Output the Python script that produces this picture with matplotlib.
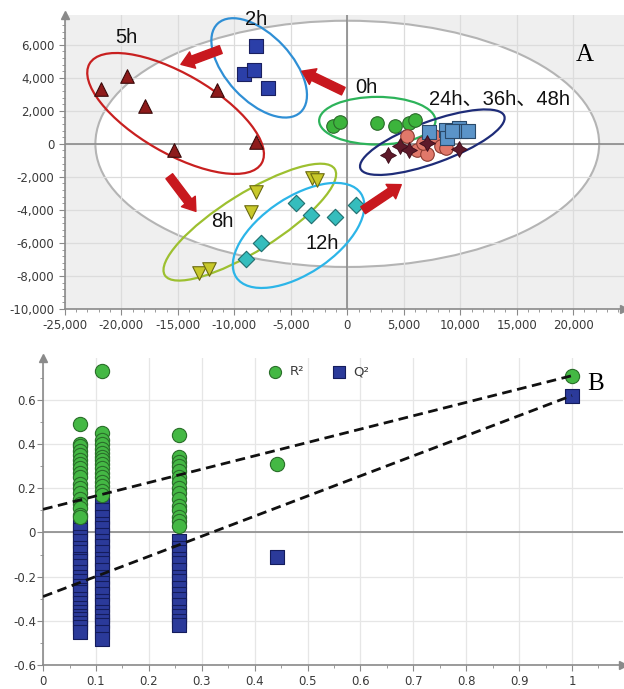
import matplotlib
matplotlib.use('Agg')
import matplotlib.pyplot as plt
from matplotlib.patches import Ellipse
from matplotlib.transforms import Affine2D
from matplotlib.ticker import FuncFormatter, AutoMinorLocator, MultipleLocator

# ── PCA scores (t1, t2) per sampling time ────────────────────────────────────
H5_X = [-21800, -19500, -17900, -15300, -11500, -8100]
H5_Y = [3350, 4100, 2300, -350, 3250, 100]
H2_X = [-8050, -9150, -8300, -7050]
H2_Y = [5900, 4200, 4500, 3400]
H0_X = [-1250, -650, 2650, 4250, 5500, 6000]
H0_Y = [1100, 1350, 1250, 1100, 1250, 1450]
H8_X = [-8100, -8550, -13100, -12250, -3100, -2700]
H8_Y = [-2900, -4100, -7800, -7600, -2050, -2200]
H12_X = [-9000, -7600, -4500, -3200, -1100, 800]
H12_Y = [-7000, -6000, -3600, -4300, -4400, -3700]
H24_X = [5300, 6200, 7100, 7700, 8300, 8750, 6700]
H24_Y = [450, -350, -600, 450, -150, -250, 50]
H36_X = [3600, 4700, 5500, 7100, 9850]
H36_Y = [-700, -150, -350, 50, -300]
H48_X = [7250, 8750, 8850, 9900, 10050, 10700, 9300]
H48_Y = [700, 850, 350, 950, 750, 750, 800]

# ── permutation test (200 permutations, shown compressed) ───────────────────
PERM_X = [0.070, 0.111, 0.257, 0.443]
R2_PERM = [
    [0.49, 0.40, 0.39, 0.37, 0.35, 0.33, 0.31, 0.29, 0.27, 0.25, 0.22,
     0.20, 0.18, 0.15, 0.13, 0.11, 0.08, 0.07],
    [0.73, 0.45, 0.42, 0.40, 0.38, 0.36, 0.34, 0.33, 0.31, 0.29, 0.27,
     0.25, 0.23, 0.21, 0.19, 0.17],
    [0.44, 0.34, 0.32, 0.30, 0.28, 0.25, 0.23, 0.20, 0.18, 0.15, 0.12,
     0.10, 0.07, 0.05, 0.03],
    [0.31],
]
Q2_PERM = [
    [0.03, 0.01, -0.02, -0.04, -0.07, -0.09, -0.12, -0.13, -0.15, -0.18,
     -0.20, -0.22, -0.24, -0.26, -0.27, -0.30, -0.32, -0.34, -0.36, -0.38,
     -0.39, -0.41, -0.43, -0.45],
    [0.13, 0.10, 0.07, 0.04, 0.02, -0.01, -0.04, -0.06, -0.09, -0.12,
     -0.14, -0.17, -0.20, -0.23, -0.25, -0.28, -0.31, -0.33, -0.36, -0.38,
     -0.40, -0.42, -0.45, -0.48],
    [-0.04, -0.07, -0.09, -0.12, -0.14, -0.17, -0.20, -0.22, -0.25, -0.28,
     -0.30, -0.33, -0.36, -0.38, -0.40, -0.42],
    [-0.11],
]
MODEL_X = 1.0
R2_MODEL = 0.71
Q2_MODEL = 0.62
R2_INTERCEPT = 0.105
Q2_INTERCEPT = -0.29

# ── colours ──────────────────────────────────────────────────────────────────
AXIS_C = '#8a8a8a'
TEXT_C = '#3a3a3a'
GRID_C = '#dcdcdc'
ARROW_C = '#c8181e'
LABEL_FONT = ['Liberation Sans', 'Noto Sans CJK SC']

fig = plt.figure(figsize=(6.24, 6.89), dpi=100)
ax = fig.add_axes([0.104, 0.5515, 0.896, 0.4267])
bx = fig.add_axes([0.069, 0.0348, 0.929, 0.4456])


def style_axes(a, bg):
    a.set_facecolor(bg)
    for s in ('top', 'right'):
        a.spines[s].set_visible(False)
    for s in ('left', 'bottom'):
        a.spines[s].set_color(AXIS_C)
        a.spines[s].set_linewidth(1.2)
    # arrow heads on the axis ends
    a.plot(0, 1, '^', transform=a.transAxes, clip_on=False,
           color=AXIS_C, ms=6, zorder=6)
    a.plot(1, 0, '>', transform=a.transAxes, clip_on=False,
           color=AXIS_C, ms=6, zorder=6)
    a.tick_params(which='both', colors=AXIS_C, labelcolor=TEXT_C,
                  labelsize=8.5, direction='out')
    a.tick_params(which='major', length=4)
    a.tick_params(which='minor', length=2.5)
    a.grid(True, which='major', color=GRID_C, lw=0.9)
    a.set_axisbelow(True)


# ──────────────────────────────────────────────────────────────────────────────
# A: scores plot
# ──────────────────────────────────────────────────────────────────────────────
style_axes(ax, '#efefef')
ax.set_xlim(-25000, 24500)
ax.set_ylim(-10000, 7800)
ax.xaxis.set_major_locator(MultipleLocator(5000))
ax.yaxis.set_major_locator(MultipleLocator(2000))
ax.xaxis.set_minor_locator(AutoMinorLocator(5))
ax.yaxis.set_minor_locator(AutoMinorLocator(5))
ax.set_xticks(range(-25000, 20001, 5000))
fmt = FuncFormatter(lambda v, p: f'{int(v):,}')
ax.xaxis.set_major_formatter(fmt)
ax.yaxis.set_major_formatter(fmt)
ax.axhline(0, color=AXIS_C, lw=1.2, zorder=0.6)
ax.axvline(0, color=AXIS_C, lw=1.2, zorder=0.6)


def _ratio(a):
    """y-data units per x-data unit of equal on-screen length."""
    bb = a.get_position()
    fw, fh = fig.get_size_inches()
    x0, x1 = a.get_xlim()
    y0, y1 = a.get_ylim()
    return (bb.width * fw / (x1 - x0)) / (bb.height * fh / (y1 - y0))


def group_ellipse(a, cx, cy, semi_a, semi_b, angle, color, fill='none',
                  lw=1.6, z=3):
    # semi-axes in x-data units, angle measured on screen
    r = _ratio(a)
    tr = Affine2D().scale(1, r) + a.transData
    e = Ellipse((cx, cy / r), 2 * semi_a, 2 * semi_b, angle=angle,
                transform=tr, facecolor=fill, edgecolor=color, lw=lw,
                zorder=z)
    a.add_patch(e)


# Hotelling T2 (95%) region
group_ellipse(ax, 0, 0, 22300, 10900, 0, '#b4b4b4', fill='white', lw=1.5,
              z=0.3)
group_ellipse(ax, -15200, 1840, 8800, 3520, -30, '#c82020')
group_ellipse(ax, -7800, 4600, 5370, 2900, -47, '#2f8fd5')
group_ellipse(ax, -8630, -4740, 8870, 2550, 32, '#9dc030')
group_ellipse(ax, -4310, -5545, 6650, 3370, 34, '#2cb5e8')
group_ellipse(ax, 2660, 1400, 5150, 2110, 0, '#2db35a')
group_ellipse(ax, 7530, 100, 6780, 1850, 20, '#1e2c78')

mk = dict(s=95, linewidths=0.8, zorder=4)
ax.scatter(H5_X, H5_Y, marker='^', c='#8e1b1b', edgecolors='#3a0a0a', **mk)
ax.scatter(H2_X, H2_Y, marker='s', c='#2b3fa8', edgecolors='#1a2060', **mk)
ax.scatter(H0_X, H0_Y, marker='o', c='#3cb43c', edgecolors='#2a6a2a', **mk)
ax.scatter(H8_X, H8_Y, marker='v', c='#c8c82a', edgecolors='#6a6a10', **mk)
ax.scatter(H12_X, H12_Y, marker='D', c='#35bdbd', edgecolors='#1e6e6e',
           s=70, linewidths=0.8, zorder=4)
ax.scatter(H24_X, H24_Y, marker='o', c='#e0786a', edgecolors='#8a3a30', **mk)
ax.scatter(H36_X, H36_Y, marker=(4, 1, 0), c='#5e1a2a', edgecolors='#3a0a18',
           s=130, linewidths=0.6, zorder=5)
ax.scatter(H48_X, H48_Y, marker='s', c='#5b94c8', edgecolors='#2a4a6a', **mk)

# time-course arrows: (tail), (head)
ARROWS = [((-350, 3190), (-4020, 4400)),
          ((-11200, 5710), (-14730, 4810)),
          ((-15760, -1960), (-13400, -4090)),
          ((1400, -4020), (4780, -2470))]
for tail, head in ARROWS:
    ax.annotate('', xy=head, xytext=tail, zorder=6,
                arrowprops=dict(arrowstyle='simple,head_length=0.9,'
                                'head_width=1.25,tail_width=0.6',
                                color=ARROW_C, mutation_scale=10,
                                shrinkA=0, shrinkB=0))

lab = dict(fontsize=14.5, color='#111111', family=LABEL_FONT, zorder=7)
ax.text(-19540, 6440, '5h', ha='center', va='center', **lab)
ax.text(-8100, 7550, '2h', ha='center', va='center', **lab)
ax.text(1670, 3410, '0h', ha='center', va='center', **lab)
ax.text(7280, 2680, '24h、36h、48h', ha='left', va='center', **lab)
ax.text(-11090, -4710, '8h', ha='center', va='center', **lab)
ax.text(-2200, -6020, '12h', ha='center', va='center', **lab)
fig.text(585 / 624, 1 - 55 / 689, 'A', fontsize=18, family='Liberation Serif',
         ha='center', va='center')

# ──────────────────────────────────────────────────────────────────────────────
# B: permutation test
# ──────────────────────────────────────────────────────────────────────────────
style_axes(bx, 'white')
bx.grid(True, which='major', color='#e6e6e6', lw=0.9)
bx.set_xlim(0, 1.096)
bx.set_ylim(-0.6, 0.79)
bx.set_xticks([i / 10 for i in range(11)])
bx.set_yticks([-0.6, -0.4, -0.2, 0, 0.2, 0.4, 0.6])
bx.xaxis.set_major_formatter(FuncFormatter(lambda v, p: f'{v:g}'))
bx.yaxis.set_major_formatter(FuncFormatter(lambda v, p: f'{v:g}'))
bx.xaxis.set_minor_locator(AutoMinorLocator(2))
bx.yaxis.set_minor_locator(AutoMinorLocator(2))
bx.tick_params(axis='y', pad=1)
bx.axhline(0, color=AXIS_C, lw=1.2, zorder=0.6)

sq = dict(marker='s', s=92, c='#2b3a9a', edgecolors='#141c5c',
          linewidths=0.8, zorder=3)
ci = dict(marker='o', s=105, c='#44b844', edgecolors='#2a6e2a',
          linewidths=0.8, zorder=4)
for x, q in zip(PERM_X, Q2_PERM):
    bx.scatter([x] * len(q), q, **sq)
for x, r in zip(PERM_X, R2_PERM):
    bx.scatter([x] * len(r), r, **ci)
hq = bx.scatter([MODEL_X], [Q2_MODEL], label='Q²', **sq)
hr = bx.scatter([MODEL_X], [R2_MODEL], label='R²', **ci)

bx.plot([0, MODEL_X], [R2_INTERCEPT, R2_MODEL], ls=(0, (3.5, 2)),
        color='#111111', lw=2, zorder=5)
bx.plot([0, MODEL_X], [Q2_INTERCEPT, Q2_MODEL], ls=(0, (3.5, 2)),
        color='#111111', lw=2, zorder=5)

bx.legend(handles=[hr, hq], loc='center', bbox_to_anchor=(0.47, 0.955),
          ncol=2, frameon=False, fontsize=9.5, handletextpad=0.1,
          columnspacing=1.6, markerscale=0.85, labelcolor=TEXT_C)
fig.text(596 / 624, 1 - 384 / 689, 'B', fontsize=18, family='Liberation Serif',
         ha='center', va='center')

fig.savefig('out.png', dpi=100)
